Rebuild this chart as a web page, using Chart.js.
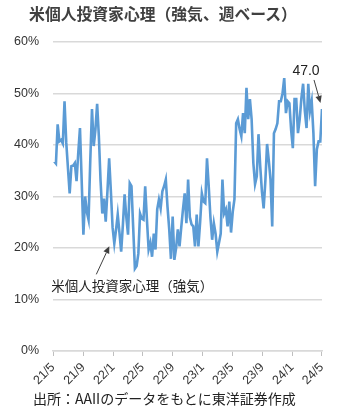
<!DOCTYPE html>
<html lang="ja">
<head>
<meta charset="utf-8">
<script src="https://cdn.jsdelivr.net/npm/chart.js@4/dist/chart.umd.min.js"></script>
<style>
  html, body { margin: 0; padding: 0; background: #fff; }
  #wrap { position: relative; width: 340px; height: 413px; overflow: hidden; }
  #wrap canvas { position: absolute; left: 0; top: 0; }
  #title {
    position: absolute; left: 0; top: 5px; width: 326px; text-align: center;
    font: bold 15.8px "Noto Sans CJK JP", sans-serif; line-height: 18px; color: #404040;
  }
  #source {
    position: absolute; left: 33px; top: 389px;
    font: 14px "Noto Sans CJK JP", sans-serif; line-height: 18px; color: #222;
  }
</style>
</head>
<body>
<div id="wrap">
  <canvas id="sentiment" width="340" height="413"></canvas>
  <div id="title">米個人投資家心理（強気、週ベース）</div>
  <div id="source">出所：AAIIのデータをもとに東洋証券作成</div>
</div>
<script>
;(function (window, document, Chart) {
  // weekly AAII bullish readings (%), first survey 2021-05-06
  var firstWeek = '2021-05-06'
  var bullish = [
    36.8, 36.4, 44.0, 40.7, 41.0, 40.3, 48.5, 40.5, 35.5, 30.6,
    35.9, 36.0, 36.5, 33.0, 38.5, 43.3, 33.0, 22.6, 30.0, 27.0,
    25.5, 37.0, 47.0, 39.8, 43.0, 48.0, 41.7, 33.0, 26.7, 29.6,
    25.1, 31.0, 37.4, 31.0, 24.0, 20.9, 23.5, 26.5, 23.0, 19.3,
    24.5, 30.4, 26.0, 22.6, 32.6, 32.0, 24.0, 16.0, 16.5, 18.9,
    26.7, 25.7, 25.5, 32.0, 25.5, 19.7, 21.0, 18.3, 22.8, 19.7,
    27.5, 29.4, 27.7, 31.0, 32.0, 33.3, 28.0, 23.6, 17.9, 26.1,
    17.7, 20.0, 23.6, 20.3, 24.0, 27.5, 30.6, 24.8, 33.3, 26.0,
    24.6, 24.2, 20.3, 26.5, 20.3, 25.0, 30.6, 29.0, 28.7, 37.4,
    32.0, 26.0, 21.6, 24.8, 22.8, 19.3, 21.0, 22.8, 33.3, 26.7,
    27.5, 24.2, 29.0, 23.0, 27.0, 29.5, 44.2, 45.0, 43.1, 41.7,
    46.2, 42.3, 51.1, 45.0, 48.9, 45.0, 36.5, 32.4, 33.9, 42.1,
    35.9, 31.0, 27.7, 33.0, 40.2, 37.0, 33.3, 24.2, 42.3, 43.1,
    44.2, 48.5, 48.5, 50.0, 53.0, 46.2, 48.5, 48.1, 43.0, 39.4,
    48.9, 48.9, 42.3, 45.0, 49.1, 51.9, 46.6, 43.3, 51.9, 46.6,
    48.5, 42.3, 32.0, 39.2, 40.7, 40.7, 47.0
  ]
  // x axis labels, yy/m, one every four months
  var tickLabels = ['21/5', '21/9', '22/1', '22/5', '22/9', '23/1', '23/5', '23/9', '24/1', '24/5']
  var seriesName = '米個人投資家心理（強気）'

  var DAY = 86400000
  var origin = Date.UTC(2021, 4, 1)

  function dayOf (y, m, d) {
    return (Date.UTC(y, m - 1, d) - origin) / DAY
  }

  var p = firstWeek.split('-')
  var firstDay = dayOf(+p[0], +p[1], +p[2])
  var points = bullish.map(function (v, i) {
    return { x: firstDay + i * 7, y: v }
  })
  var tickDays = tickLabels.map(function (t) {
    var s = t.split('/')
    return dayOf(2000 + +s[0], +s[1], 1)
  })
  var lastDay = points[points.length - 1].x

  var latin = '"Liberation Sans", "Noto Sans CJK JP", sans-serif'
  var jp = '"Noto Sans CJK JP", sans-serif'

  function arrow (ctx, x0, y0, x1, y1, color) {
    var a = Math.atan2(y1 - y0, x1 - x0)
    var len = 7, half = 3.2
    ctx.strokeStyle = color
    ctx.fillStyle = color
    ctx.lineWidth = 1
    ctx.beginPath()
    ctx.moveTo(x0, y0)
    ctx.lineTo(x1 - Math.cos(a) * len, y1 - Math.sin(a) * len)
    ctx.stroke()
    ctx.beginPath()
    ctx.moveTo(x1, y1)
    ctx.lineTo(x1 - Math.cos(a) * len - Math.sin(a) * half, y1 - Math.sin(a) * len + Math.cos(a) * half)
    ctx.lineTo(x1 - Math.cos(a) * len + Math.sin(a) * half, y1 - Math.sin(a) * len - Math.cos(a) * half)
    ctx.closePath()
    ctx.fill()
  }

  // callouts: latest reading and the series name
  var callouts = {
    id: 'callouts',
    afterDatasetsDraw: function (chart) {
      var ctx = chart.ctx
      var xs = chart.scales.x
      var ys = chart.scales.y
      var last = points[points.length - 1]
      var lx = xs.getPixelForValue(last.x)
      var ly = ys.getPixelForValue(last.y)

      ctx.save()
      ctx.textAlign = 'center'
      ctx.textBaseline = 'middle'
      ctx.fillStyle = '#222'
      ctx.font = '14px ' + latin
      ctx.fillText(last.y.toFixed(1), lx - 16, ly - 38)
      arrow(ctx, lx - 8, ly - 29, lx - 1.5, ly - 6, '#404040')

      var low = points[35]
      var nx = xs.getPixelForValue(low.x)
      var ny = ys.getPixelForValue(low.y)
      arrow(ctx, nx - 18, ny + 31, nx - 5, ny + 3, '#404040')
      ctx.textAlign = 'left'
      ctx.fillStyle = '#222'
      ctx.font = '13.5px ' + jp
      ctx.fillText(seriesName, nx - 63, ny + 43)
      ctx.restore()
    }
  }

  var ctx = document.getElementById('sentiment').getContext('2d')
  new Chart(ctx, {
    type: 'line',
    data: {
      datasets: [{
        label: seriesName,
        data: points,
        borderColor: '#5b9bd5',
        borderWidth: 2.6,
        pointRadius: 0,
        tension: 0,
        fill: false
      }]
    },
    options: {
      responsive: false,
      animation: false,
      layout: { padding: { top: 42, right: 18, left: 0, bottom: 0 } },
      plugins: {
        legend: { display: false },
        tooltip: { enabled: false }
      },
      scales: {
        x: {
          type: 'linear',
          min: 0,
          max: lastDay,
          afterBuildTicks: function (scale) {
            scale.ticks = tickDays.map(function (d) { return { value: d } })
          },
          afterFit: function (scale) { scale.height = 62 },
          grid: { drawOnChartArea: false, drawTicks: true, tickLength: 5, color: '#bfbfbf' },
          border: { display: true, color: '#d9d9d9', width: 1.5 },
          ticks: {
            autoSkip: false,
            minRotation: 45,
            maxRotation: 45,
            padding: 4,
            color: '#333',
            font: { size: 12.5, family: latin },
            callback: function (v, i) { return tickLabels[i] }
          }
        },
        y: {
          min: 0,
          max: 60,
          afterFit: function (scale) { scale.width = 53 },
          grid: { color: '#d9d9d9', lineWidth: 1.5, drawTicks: false },
          border: { display: false },
          ticks: {
            stepSize: 10,
            padding: 14,
            color: '#333',
            font: { size: 12.5, family: latin },
            callback: function (v) { return v + '%' }
          }
        }
      }
    },
    plugins: [callouts]
  })
})(window, document, Chart);
</script>
</body>
</html>
